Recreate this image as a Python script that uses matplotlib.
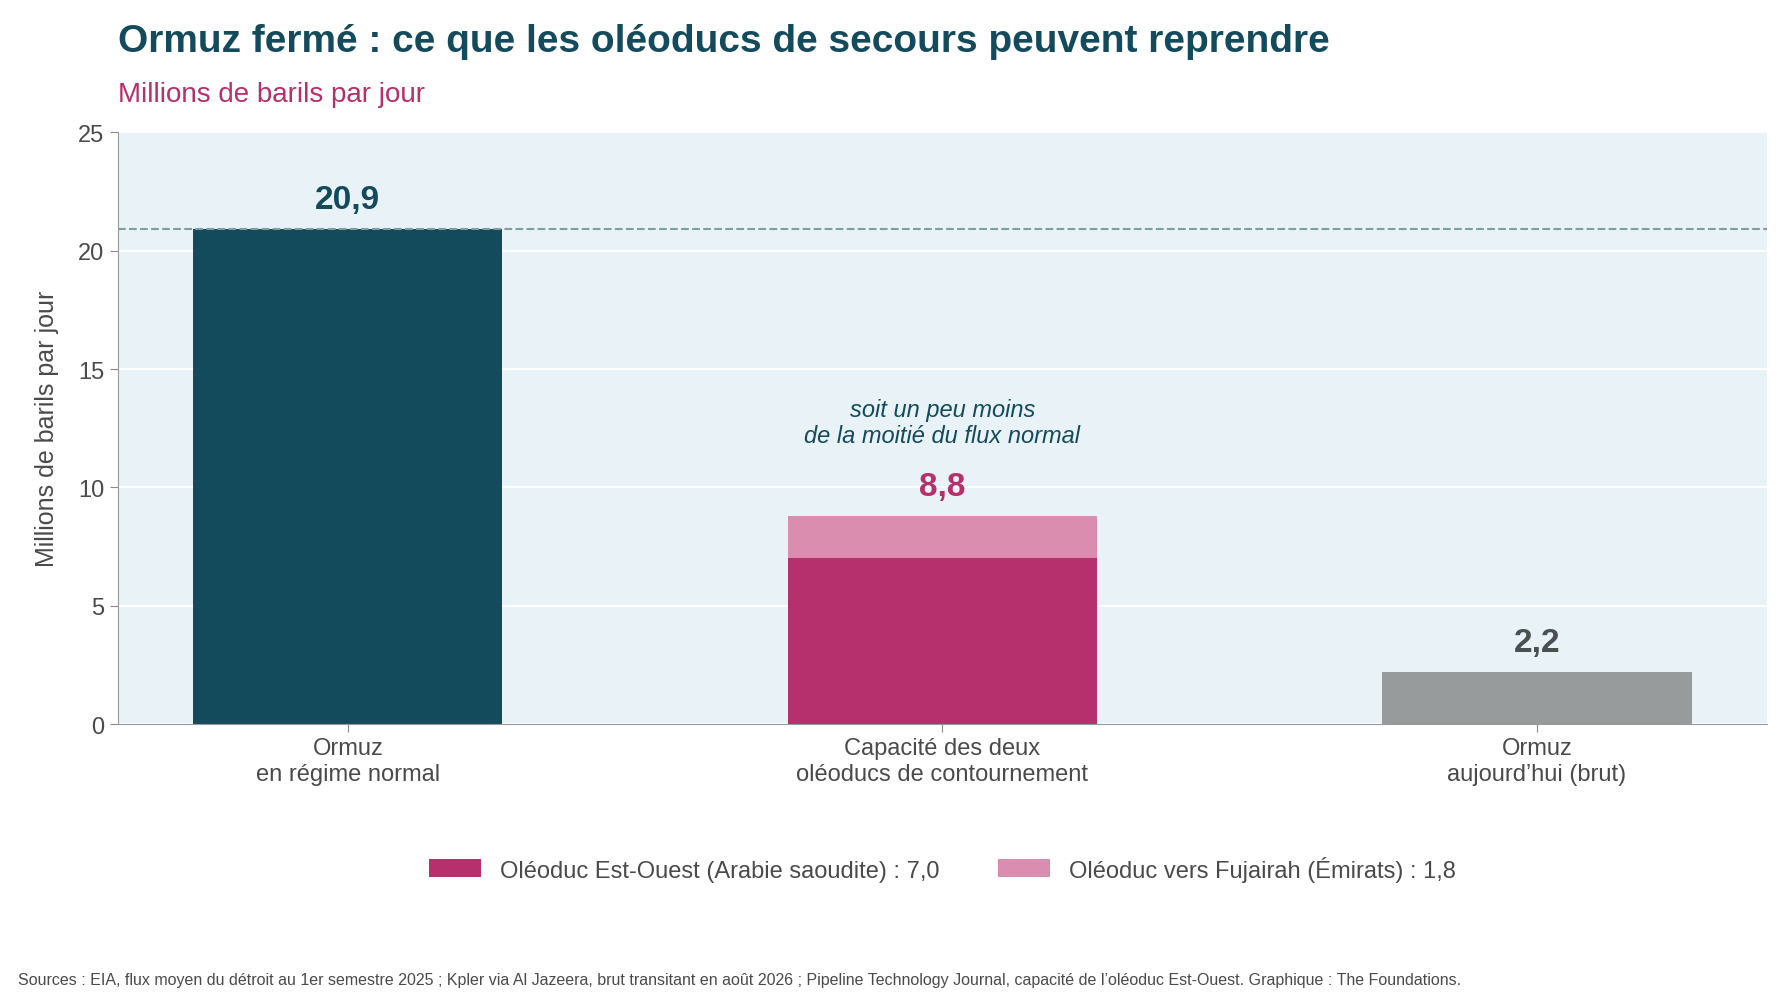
import numpy as np
import matplotlib.pyplot as plt

plt.rcParams['font.family'] = ['Liberation Sans', 'DejaVu Sans']

categories = ["Ormuz\nen régime normal", "Capacité des deux\noléoducs de contournement", "Ormuz\naujourd’hui (brut)"]
normal = 20.9
est_ouest = 7.0
fujairah = 1.8
today = 2.2

fig = plt.figure(figsize=(17.85, 10.03), dpi=100)
ax = fig.add_axes([0.066, 0.277, 0.924, 0.59])
ax.set_facecolor("#e9f2f6")
ax.grid(axis="y", color="white", linewidth=1.5)
ax.set_axisbelow(True)

w = 0.52
ax.bar(0, normal, w, color="#134a5c")
ax.bar(1, est_ouest, w, color="#b5306d", label="Oléoduc Est-Ouest (Arabie saoudite) : 7,0")
ax.bar(1, fujairah, w, bottom=est_ouest, color="#db8db0", label="Oléoduc vers Fujairah (Émirats) : 1,8")
ax.bar(2, today, w, color="#989b9b")
ax.axhline(normal, color="#7f9f9c", linestyle="--", linewidth=1.5)

def fr(v):
    return f"{v:.1f}".replace(".", ",")

ax.text(0, normal + 0.6, fr(normal), ha="center", va="bottom", fontsize=24, fontweight="bold", color="#134a5c")
ax.text(1, est_ouest + fujairah + 0.6, fr(est_ouest + fujairah), ha="center", va="bottom", fontsize=24, fontweight="bold", color="#b5306d")
ax.text(1, 11.7, "soit un peu moins\nde la moitié du flux normal", ha="center", va="bottom", fontsize=17, style="italic", color="#134a5c", linespacing=1.2)
ax.text(2, today + 0.6, fr(today), ha="center", va="bottom", fontsize=24, fontweight="bold", color="#4a5050")

ax.set_xlim(-0.387, 2.387)
ax.set_ylim(0, 25)
ax.set_yticks([0, 5, 10, 15, 20, 25])
ax.set_xticks([0, 1, 2])
ax.set_xticklabels(categories)
ax.tick_params(labelsize=17, colors="#4a4a4a", length=6, color="#888888")
for s in ["top", "right"]:
    ax.spines[s].set_visible(False)
for s in ["left", "bottom"]:
    ax.spines[s].set_color("#999999")
ax.set_ylabel("Millions de barils par jour", fontsize=18, color="#4a4a4a", labelpad=14)

fig.text(0.066, 0.958, "Ormuz fermé : ce que les oléoducs de secours peuvent reprendre", fontsize=28, fontweight="bold", color="#134a5c", va="center")
fig.text(0.066, 0.905, "Millions de baril par jour".replace("baril ", "barils "), fontsize=20, color="#b5306d", va="center")

fig.legend(loc="center", bbox_to_anchor=(0.528, 0.133), ncol=2, frameon=False, fontsize=17,
           handlelength=2.2, handleheight=0.8, columnspacing=2.5, labelcolor="#4a4a4a")
fig.text(0.01, 0.022, "Sources : EIA, flux moyen du détroit au 1er semestre 2025 ; Kpler via Al Jazeera, brut transitant en août 2026 ; Pipeline Technology Journal, capacité de l’oléoduc Est-Ouest. Graphique : The Foundations.",
         fontsize=11.5, color="#4a4a4a", va="center")

fig.savefig("out.png", dpi=100)
